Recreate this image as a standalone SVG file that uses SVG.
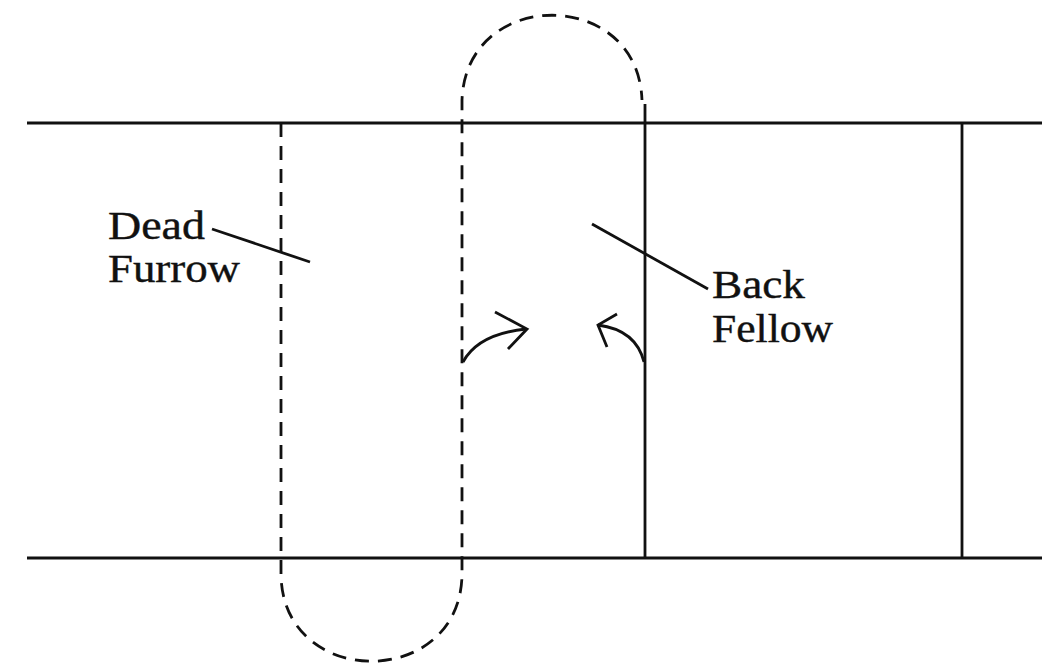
<svg xmlns="http://www.w3.org/2000/svg" width="1042" height="664" viewBox="0 0 1042 664">
<style>
.s{stroke:#111;stroke-width:2.8;fill:none}
.d{stroke:#111;stroke-width:2.8;fill:none;stroke-dasharray:14 9}
.t{font-family:"Liberation Serif","Times New Roman",serif;font-size:40px;fill:#111;stroke:#111;stroke-width:0.4}
</style>
<rect width="1042" height="664" fill="#fff"/>
<g id="field">
<line class="s" x1="27" y1="123" x2="1042" y2="123"/>
<line class="s" x1="27" y1="558" x2="1042" y2="558"/>
<line class="s" x1="645" y1="104" x2="645" y2="558"/>
<line class="s" x1="962" y1="123" x2="962" y2="558"/>
</g>
<g id="dead-furrow">
<path class="d" d="M281,123 V575 C283,690 460,690 462,575 V100 C466,-13 638,-13 642,100"/>
</g>
<g id="connectors">
<line class="s" x1="212" y1="229" x2="310" y2="262"/>
<line class="s" x1="592" y1="224" x2="708" y2="289"/>
<path class="s" d="M463,362 Q478,334 526,329"/>
<polyline class="s" points="495,312 527,329 508,349"/>
<path class="s" d="M644,362 Q636,330 598,325"/>
<polyline class="s" points="617,314 598,325 607,347"/>
</g>
<g id="label-dead">
<text class="t" x="108" y="239" textLength="97" lengthAdjust="spacingAndGlyphs">Dead</text>
<text class="t" x="108" y="282" textLength="132" lengthAdjust="spacingAndGlyphs">Furrow</text>
</g>
<g id="label-back">
<text class="t" x="712" y="298" textLength="93" lengthAdjust="spacingAndGlyphs">Back</text>
<text class="t" x="712" y="342" textLength="121" lengthAdjust="spacingAndGlyphs">Fellow</text>
</g>
</svg>
